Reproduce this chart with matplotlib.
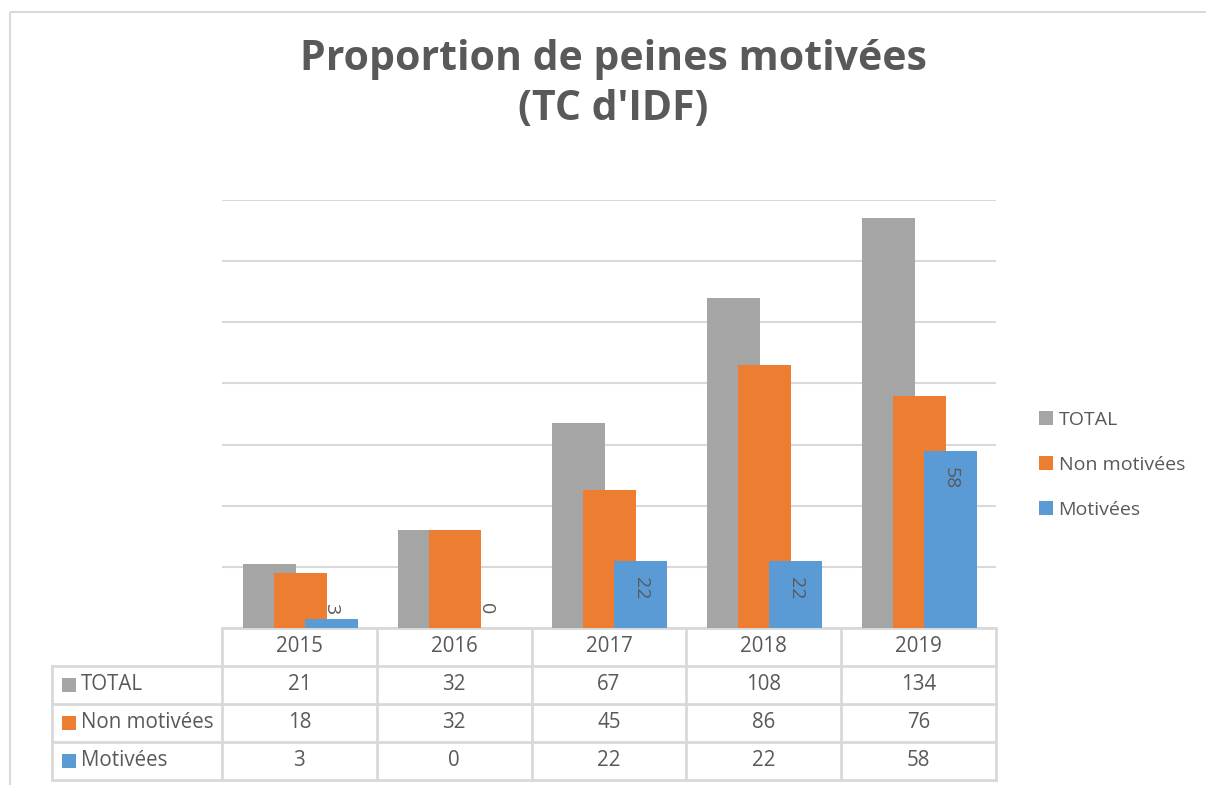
import matplotlib
matplotlib.use("Agg")
import matplotlib.pyplot as plt
from matplotlib.patches import Rectangle
from matplotlib.lines import Line2D
import numpy as np

plt.rcParams['font.family'] = ['Open Sans', 'DejaVu Sans']

# ---- data ----
years = ["2015", "2016", "2017", "2018", "2019"]
series_names = ["TOTAL", "Non motivées", "Motivées"]
total = [21, 32, 67, 108, 134]
non_motivees = [18, 32, 45, 86, 76]
motivees = [3, 0, 22, 22, 58]
colors = ["#A5A5A5", "#ED7D31", "#5B9BD5"]

TXT = "#595959"
GRID = "#D9D9D9"
W, H = 1206, 785
FS = 14.8
fig = plt.figure(figsize=(W / 100, H / 100), dpi=100)

# overlay axes in pixel coordinates for frame / table structure
ov = fig.add_axes([0, 0, 1, 1], zorder=0)
ov.set_xlim(0, W)
ov.set_ylim(H, 0)
ov.axis('off')

# chart border (clipped at right / bottom like the reference)
ov.add_patch(Rectangle((9.5, 11.5), W + 20, H + 20, fill=False, edgecolor=GRID, lw=1.5, clip_on=True))

# title
fig.text(613 / W, 1 - 59 / H, "Proportion de peines motivées", ha='center', va='center',
         fontsize=29.5, fontweight='bold', color=TXT)
fig.text(613 / W, 1 - 109 / H, "(TC d'IDF)", ha='center', va='center',
         fontsize=29.5, fontweight='bold', color=TXT)

# main axes
L, R, T, B = 222, 996, 200, 628
ax = fig.add_axes([L / W, 1 - B / H, (R - L) / W, (B - T) / H], zorder=2)
ax.patch.set_alpha(0)
ax.set_xlim(0, len(years))
ax.set_ylim(0, 140)
ax.set_yticks(np.arange(0, 141, 20))
ax.yaxis.grid(True, color=GRID, lw=1.5)
ax.set_axisbelow(True)
for s in ax.spines.values():
    s.set_visible(False)
ax.tick_params(left=False, bottom=False, labelleft=False, labelbottom=False)

x = np.arange(len(years)) + 0.5
bw = 0.342
offsets = [-0.195, 0.005, 0.205]
data = [total, non_motivees, motivees]
handles = []
for i, (vals, c, name) in enumerate(zip(data, colors, series_names)):
    bars = ax.bar(x + offsets[i], vals, width=bw, color=c, label=name, zorder=2 + i)
    handles.append(bars)

# data labels for Motivées (rotated, inside end)
for xi, v in zip(x + offsets[2], motivees):
    if v >= 10:
        ax.annotate(str(v), (xi, v), xytext=(0, -12), textcoords='offset points',
                    rotation=-90, ha='center', va='top', fontsize=14, color=TXT, zorder=10)
    else:
        ax.annotate(str(v), (xi, 0), xytext=(0, 10), textcoords='offset points',
                    rotation=-90, ha='center', va='bottom', fontsize=14, color=TXT, zorder=10)

# legend
leg = fig.legend(handles=handles, labels=series_names, loc='center left',
                 bbox_to_anchor=(1029 / W, 1 - 465 / H), frameon=False,
                 fontsize=14, borderpad=0, handlelength=0.72, handleheight=0.72,
                 handletextpad=0.3, labelspacing=1.38, labelcolor=TXT)

# data table
col_edges = np.linspace(L, R, len(years) + 1)
row_edges = [628, 665.5, 703.5, 741.5, 779.5]
tl = 52
lw_t = 2
ov.add_line(Line2D([L, R], [row_edges[0]] * 2, color=GRID, lw=lw_t))
for r in row_edges[1:]:
    ov.add_line(Line2D([tl, R], [r, r], color=GRID, lw=lw_t))
ov.add_line(Line2D([tl, tl], [row_edges[1], row_edges[-1]], color=GRID, lw=lw_t))
for ce in col_edges:
    ov.add_line(Line2D([ce, ce], [row_edges[0], row_edges[-1]], color=GRID, lw=lw_t))

for j, yr in enumerate(years):
    cx = (col_edges[j] + col_edges[j + 1]) / 2
    ov.text(cx, (row_edges[0] + row_edges[1]) / 2, yr, ha='center', va='center',
            fontsize=FS, color=TXT)
for i, (vals, c, name) in enumerate(zip(data, colors, series_names)):
    cy = (row_edges[i + 1] + row_edges[i + 2]) / 2
    ov.add_patch(Rectangle((62, cy - 7), 14, 14, color=c, lw=0))
    ov.text(81, cy, name, ha='left', va='center', fontsize=FS, color=TXT)
    for j, v in enumerate(vals):
        cx = (col_edges[j] + col_edges[j + 1]) / 2
        ov.text(cx, cy, str(v), ha='center', va='center', fontsize=FS, color=TXT)

fig.savefig("out.png", dpi=100)
